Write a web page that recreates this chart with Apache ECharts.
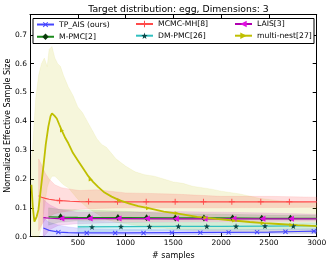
<!DOCTYPE html>
<html><head><meta charset="utf-8">
<script src="https://cdn.jsdelivr.net/npm/echarts@6/dist/echarts.min.js"></script>
<style>html,body{margin:0;padding:0;background:#fff}#c{width:332px;height:263px}</style>
</head><body><div id="c"></div>
<script>
// ---- data ----
const names = ['TP_AIS (ours)', 'M-PMC[2]', 'MCMC-MH[8]', 'DM-PMC[26]', 'LAIS[3]', 'multi-nest[27]'];
const xTicks = [500, 1000, 1500, 2000, 2500, 3000];
const yTicks = [0.0, 0.1, 0.2, 0.3, 0.4, 0.5, 0.6, 0.7];

// TP_AIS
const blueX  = [140, 200, 300, 400, 500, 700, 1000, 1500, 2000, 2500, 2800, 3000];
const blueY  = [0.030, 0.022, 0.016, 0.014, 0.013, 0.013, 0.013, 0.014, 0.015, 0.016, 0.018, 0.019];
const blueLo = [0.0, 0.0, 0.0, 0.002, 0.003, 0.005, 0.006, 0.007, 0.008, 0.009, 0.010, 0.011];
const blueUp = [0.065, 0.050, 0.040, 0.034, 0.030, 0.027, 0.025, 0.024, 0.024, 0.025, 0.027, 0.028];
const blueMX = [297, 594, 891, 1188, 1485, 1782, 2079, 2376, 2673, 2970];
const blueMY = [0.016, 0.013, 0.013, 0.013, 0.014, 0.014, 0.015, 0.016, 0.017, 0.019];

// MCMC-MH
const redX  = [90, 120, 160, 200, 260, 330, 420, 520, 700, 1000, 1500, 2000, 2500, 3000];
const redY  = [0.142, 0.137, 0.133, 0.130, 0.127, 0.125, 0.123, 0.122, 0.121, 0.121, 0.121, 0.121, 0.121, 0.121];
const redLo = [0.02, 0.04, 0.06, 0.07, 0.08, 0.085, 0.09, 0.095, 0.098, 0.100, 0.100, 0.100, 0.101, 0.102];
const redUp = [0.27, 0.25, 0.22, 0.20, 0.18, 0.17, 0.165, 0.160, 0.163, 0.152, 0.148, 0.140, 0.140, 0.137];
const redMX = [310, 613, 916, 1216, 1519, 1815, 2112, 2415, 2714];
const redMY = [0.125, 0.122, 0.121, 0.121, 0.121, 0.121, 0.121, 0.121, 0.121];

// LAIS
const magX  = [140, 170, 210, 300, 500, 1000, 1500, 2000, 2500, 3000];
const magY  = [0.066, 0.065, 0.064, 0.063, 0.063, 0.063, 0.062, 0.062, 0.062, 0.062];
const magLo = [0.0, 0.010, 0.025, 0.040, 0.045, 0.050, 0.052, 0.052, 0.053, 0.054];
const magUp = [0.130, 0.120, 0.110, 0.095, 0.085, 0.085, 0.087, 0.085, 0.082, 0.078];
const magMX = [328, 624, 927, 1223, 1527, 1826, 2129, 2432, 2731];
const magMY = [0.063, 0.063, 0.063, 0.063, 0.062, 0.062, 0.062, 0.062, 0.062];

// M-PMC
const grnX  = [195, 300, 500, 1000, 1500, 2000, 2500, 3000];
const grnY  = [0.069, 0.068, 0.067, 0.066, 0.065, 0.065, 0.064, 0.064];
const grnLo = [0.040, 0.050, 0.055, 0.058, 0.058, 0.058, 0.058, 0.058];
const grnUp = [0.100, 0.095, 0.093, 0.088, 0.080, 0.078, 0.075, 0.074];
const grnMX = [320, 620, 920, 1220, 1520, 1820, 2120, 2425, 2725];
const grnMY = [0.069, 0.068, 0.067, 0.066, 0.065, 0.065, 0.065, 0.064, 0.064];

// DM-PMC
const cyaX  = [500, 1000, 1500, 2000, 2500, 3000];
const cyaY  = [0.034, 0.035, 0.036, 0.036, 0.037, 0.038];
const cyaLo = [0.015, 0.020, 0.022, 0.024, 0.025, 0.026];
const cyaUp = [0.055, 0.050, 0.050, 0.049, 0.048, 0.048];
const cyaMX = [649, 952, 1250, 1553, 1850, 2156, 2459, 2755];
const cyaMY = [0.034, 0.035, 0.035, 0.036, 0.036, 0.036, 0.037, 0.037];

// multi-nest
const yelX = [15, 30, 46, 70, 88, 115, 140, 165, 192, 215, 230, 255, 280, 305, 331, 365, 401, 450, 506, 560, 610, 660, 715, 780, 854, 940, 1040, 1133, 1250, 1400, 1550, 1750, 1950, 2100, 2300, 2450, 2600, 2800, 3000];
const yelY = [0.18, 0.10, 0.052, 0.07, 0.093, 0.17, 0.243, 0.32, 0.382, 0.418, 0.428, 0.42, 0.41, 0.39, 0.37, 0.345, 0.324, 0.29, 0.262, 0.235, 0.21, 0.19, 0.172, 0.153, 0.139, 0.126, 0.115, 0.106, 0.098, 0.087, 0.080, 0.069, 0.062, 0.057, 0.051, 0.047, 0.044, 0.040, 0.037];
const yelBX = [10, 25, 40, 60, 90, 120, 150, 180, 200, 230, 260, 290, 320, 350, 400, 450, 500, 550, 600, 650, 700, 750, 800, 900, 1000, 1100, 1200, 1300, 1400, 1500, 1600, 1700, 1800, 1900, 2000, 2200, 2400, 2600, 2800, 3000];
const yelLo = [0.02, 0.0, 0.0, 0.0, 0.0, 0.03, 0.10, 0.17, 0.19, 0.21, 0.21, 0.20, 0.19, 0.18, 0.17, 0.15, 0.13, 0.115, 0.10, 0.09, 0.08, 0.07, 0.06, 0.05, 0.045, 0.04, 0.035, 0.03, 0.03, 0.025, 0.025, 0.022, 0.022, 0.02, 0.02, 0.018, 0.016, 0.015, 0.013, 0.012];
const yelUp = [0.26, 0.30, 0.38, 0.48, 0.56, 0.60, 0.62, 0.59, 0.65, 0.66, 0.62, 0.60, 0.59, 0.56, 0.52, 0.49, 0.45, 0.43, 0.40, 0.37, 0.34, 0.32, 0.31, 0.27, 0.245, 0.225, 0.215, 0.21, 0.20, 0.19, 0.185, 0.175, 0.17, 0.165, 0.158, 0.148, 0.133, 0.125, 0.12, 0.116];
const yelMX = [335, 635, 935, 1235, 1535, 1835, 2135, 2435, 2735];
const yelMY = [0.368, 0.198, 0.126, 0.099, 0.081, 0.066, 0.056, 0.047, 0.041];

// ---- drawing ----
const FONT = 'DejaVu Sans';
const STAR = 'path://M0,-10 L2.35,-3.24 L9.51,-3.09 L3.8,1.24 L5.88,8.09 L0,4 L-5.88,8.09 L-3.8,1.24 L-9.51,-3.09 L-2.35,-3.24 Z';
const PLUS = 'path://M-0.8,-5 H0.8 V-0.8 H5 V0.8 H0.8 V5 H-0.8 V0.8 H-5 V-0.8 H-0.8 Z';

function zip(xs, ys) { return xs.map((x, i) => [x, ys[i]]); }

function band(xs, lo, up, color, op) {
  return {
    type: 'custom', silent: true, z: 1, data: [[0, 0]],
    renderItem: function (params, api) {
      const pts = [];
      for (let i = 0; i < xs.length; i++) pts.push(api.coord([xs[i], up[i]]));
      for (let i = xs.length - 1; i >= 0; i--) pts.push(api.coord([xs[i], lo[i]]));
      return { type: 'polygon', shape: { points: pts },
        style: { fill: color, opacity: op, stroke: color, lineWidth: 0.6 } };
    }
  };
}

function lineS(name, xs, ys, color, symbol, rot, symColor, width) {
  return {
    name: name, type: 'line', data: zip(xs, ys), showSymbol: false,
    symbol: symbol, symbolRotate: rot, symbolSize: 6,
    lineStyle: { color: color, width: width || 1.2 },
    itemStyle: { color: symColor }, z: 3
  };
}
function markS(name, xs, ys, symColor, symbol, rot, size) {
  return {
    name: name, type: 'scatter', data: zip(xs, ys), symbol: symbol, symbolRotate: rot,
    symbolSize: size, itemStyle: { color: symColor, opacity: 1 }, z: 4, silent: true
  };
}

const C = {
  blue: '#4646ff', red: '#ff4a4a', mag: '#b000b0', magM: '#e010e0',
  grn: '#1a8a1a', grnM: '#0a3a0a', cya: '#30c0c0', cyaM: '#0b4646', yel: '#bfbf00'
};

const series = [
  band(yelBX, yelLo, yelUp, C.yel, 0.14),
  band(redX, redLo, redUp, C.red, 0.18),
  band(blueX, blueLo, blueUp, C.blue, 0.18),
  band(grnX, grnLo, grnUp, C.grn, 0.15),
  band(magX, magLo, magUp, C.mag, 0.15),
  band(cyaX, cyaLo, cyaUp, C.cya, 0.18),
  lineS(names[0], blueX, blueY, C.blue, PLUS, 45, C.blue),
  lineS(names[1], grnX, grnY, C.grn, 'diamond', 0, C.grnM),
  lineS(names[2], redX, redY, C.red, PLUS, 0, C.red),
  lineS(names[3], cyaX, cyaY, C.cya, STAR, 0, C.cyaM),
  lineS(names[4], magX, magY, C.mag, 'triangle', 90, C.magM),
  lineS(names[5], yelX, yelY, C.yel, 'triangle', -90, C.yel, 1.8),
  markS(names[0], blueMX, blueMY, C.blue, PLUS, 45, 6),
  markS(names[1], grnMX, grnMY, C.grnM, 'diamond', 0, [5, 7]),
  markS(names[2], redMX, redMY, C.red, PLUS, 0, 6),
  markS(names[3], cyaMX, cyaMY, C.cyaM, STAR, 0, 6),
  markS(names[4], magMX, magMY, C.magM, 'triangle', 90, 6),
  markS(names[5], yelMX, yelMY, C.yel, 'triangle', -90, 4)
];

function legend(left, data) {
  return {
    orient: 'vertical', left: left, top: 20, padding: 0, itemGap: 3.7,
    itemWidth: 17, itemHeight: 8, data: data, selectedMode: false,
    textStyle: { fontFamily: FONT, fontSize: 7.7, color: '#000' }
  };
}

const axisCommon = {
  axisLine: { show: true, onZero: false, lineStyle: { color: '#000', width: 1 } },
  axisTick: { show: true, inside: true, length: 4, lineStyle: { color: '#000' } },
  splitLine: { show: false }
};

const chart = echarts.init(document.getElementById('c'), null, { renderer: 'canvas' });
chart.setOption({
  animation: false,
  backgroundColor: '#fff',
  title: {
    text: 'Target distribution: egg, Dimensions: 3', left: 173.5, textAlign: 'center', top: 0.5,
    textStyle: { fontFamily: FONT, fontSize: 9.3, fontWeight: 'normal', color: '#000' }
  },
  grid: { left: 30, right: 15.3, top: 14.7, bottom: 26.3, show: false, containLabel: false, outerBoundsMode: 'none' },
  legend: [
    legend(36, [names[0], names[1]]),
    legend(135, [names[2], names[3]]),
    legend(234, [names[4], names[5]])
  ],
  graphic: [{
    type: 'rect', z: 3, shape: { x: 33, y: 18.5, width: 281, height: 25 },
    style: { fill: '#fff', stroke: '#000', lineWidth: 1 }
  }],
  xAxis: [
    Object.assign({
      type: 'value', min: 0, max: 3000, interval: 500, position: 'bottom',
      name: '# samples', nameLocation: 'middle', nameGap: 15.5,
      nameTextStyle: { fontFamily: FONT, fontSize: 8, color: '#000' },
      axisLabel: { showMinLabel: false, fontFamily: FONT, fontSize: 7.5, color: '#000', margin: 2,
        formatter: v => (xTicks.indexOf(v) >= 0 ? String(v) : '') }
    }, axisCommon),
    Object.assign({
      type: 'value', min: 0, max: 3000, interval: 500, position: 'top',
      axisLabel: { show: false }
    }, axisCommon)
  ],
  yAxis: [
    Object.assign({
      type: 'value', min: 0, max: 0.77, interval: 0.1, position: 'left',
      name: 'Normalized Effective Sample Size', nameLocation: 'middle', nameGap: 18, nameMoveOverlap: false,
      nameTextStyle: { fontFamily: FONT, fontSize: 8, color: '#000' },
      axisLabel: { showMaxLabel: false, fontFamily: FONT, fontSize: 7.5, color: '#000', margin: 3,
        formatter: v => { const t = yTicks.find(k => Math.abs(k - v) < 1e-6); return t === undefined ? '' : t.toFixed(1); } }
    }, axisCommon),
    Object.assign({
      type: 'value', min: 0, max: 0.77, interval: 0.1, position: 'right',
      axisLabel: { show: false }
    }, axisCommon)
  ],
  series: series
});
</script></body></html>
